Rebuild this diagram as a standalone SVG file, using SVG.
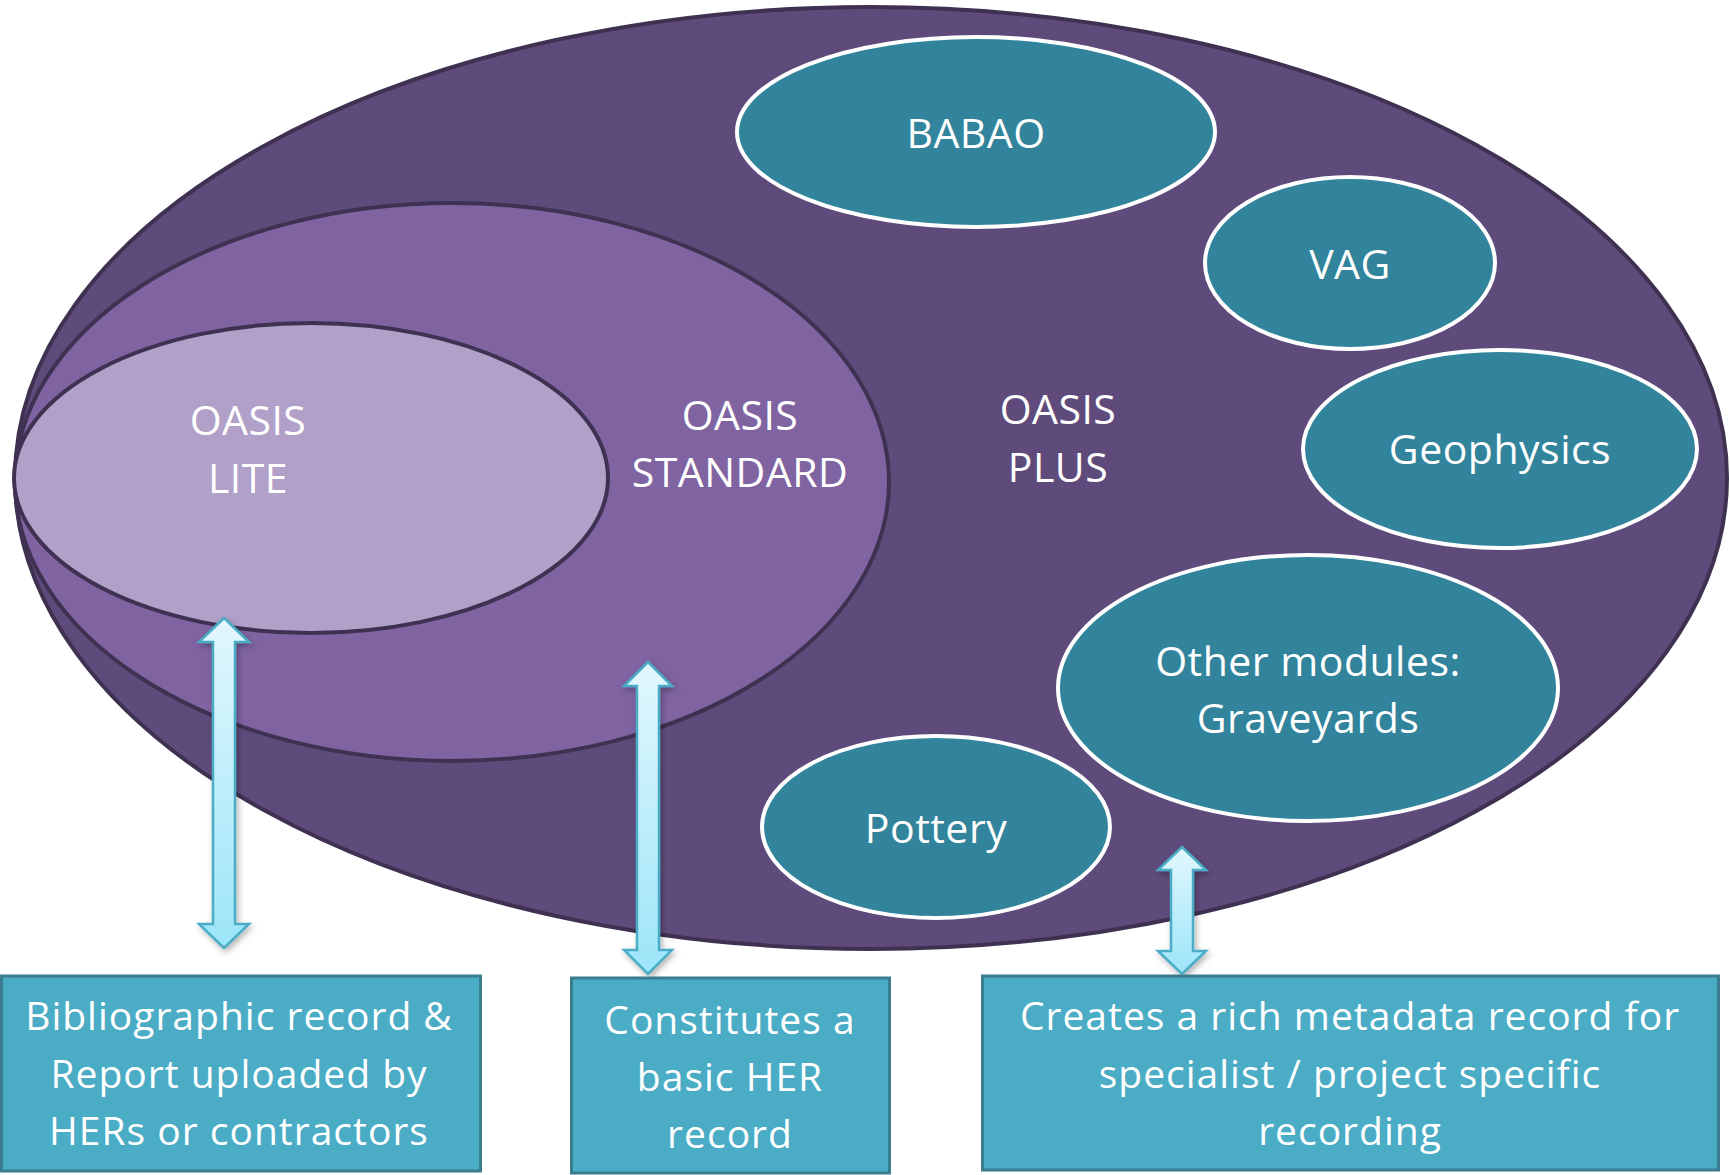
<svg xmlns="http://www.w3.org/2000/svg" width="1730" height="1175" viewBox="0 0 1730 1175">
<defs>
<linearGradient id="ag" x1="0" y1="0" x2="0" y2="1">
<stop offset="0" stop-color="#e2f7fd"/>
<stop offset="1" stop-color="#9ce5f8"/>
</linearGradient>
<filter id="sh" x="-50%" y="-10%" width="200%" height="120%">
<feDropShadow dx="2" dy="3" stdDeviation="3" flood-color="#000" flood-opacity="0.3"/>
</filter>
<style>
.t{font-family:"Open Sans","Liberation Sans",sans-serif;fill:#fff;text-anchor:middle}
.big{font-size:41px;letter-spacing:0.5px}
.box{font-size:39px;letter-spacing:1px}
.purple{stroke:#3f3151;stroke-width:4}
.mod{fill:#31849b;stroke:#fff;stroke-width:4}
.bx{fill:#4bacc6;stroke:#3a7d8f;stroke-width:3}
.arr{fill:url(#ag);stroke:#4bacc6;stroke-width:2.5;filter:url(#sh)}
</style>
</defs>
<rect width="1730" height="1175" fill="#fff"/>
<g id="oasis-plus">
<ellipse cx="871" cy="478" rx="856" ry="471" fill="#5f4b7b" class="purple"/>
<text class="t big" x="1058" y="424">OASIS</text>
<text class="t big" x="1058" y="482">PLUS</text>
</g>
<g id="oasis-standard">
<ellipse cx="452" cy="482" rx="437" ry="279" fill="#8064a2" class="purple"/>
<text class="t big" x="740" y="430">OASIS</text>
<text class="t big" x="740" y="487">STANDARD</text>
</g>
<g id="oasis-lite">
<ellipse cx="311" cy="478" rx="297" ry="155" fill="#b1a0c7" class="purple"/>
<text class="t big" x="248" y="435">OASIS</text>
<text class="t big" x="248" y="493">LITE</text>
</g>
<g id="babao">
<ellipse cx="976" cy="132" rx="239" ry="95" class="mod"/>
<text class="t big" x="976" y="148">BABAO</text>
</g>
<g id="vag">
<ellipse cx="1350" cy="263" rx="145" ry="86" class="mod"/>
<text class="t big" x="1350" y="279">VAG</text>
</g>
<g id="geophysics">
<ellipse cx="1500" cy="449" rx="197" ry="99" class="mod"/>
<text class="t big" x="1500" y="464">Geophysics</text>
</g>
<g id="other-modules">
<ellipse cx="1308" cy="688" rx="250" ry="133" class="mod"/>
<text class="t big" x="1308" y="676">Other modules:</text>
<text class="t big" x="1308" y="733">Graveyards</text>
</g>
<g id="pottery">
<ellipse cx="936" cy="827" rx="174" ry="91" class="mod"/>
<text class="t big" x="936" y="843">Pottery</text>
</g>
<g id="connectors">
<path class="arr" d="M224,618 L249,642 L235,642 L235,924 L249,924 L224,948 L199,924 L213,924 L213,642 L199,642 Z"/>
<path class="arr" d="M648,662 L672,686 L659,686 L659,950 L672,950 L648,974 L624,950 L637,950 L637,686 L624,686 Z"/>
<path class="arr" d="M1182,847 L1206,870 L1193,870 L1193,951 L1206,951 L1182,974 L1158,951 L1171,951 L1171,870 L1158,870 Z"/>
</g>
<g id="box-lite">
<rect class="bx" x="1.5" y="976" width="479" height="195"/>
<text class="t box" x="239" y="1030">Bibliographic record &amp;</text>
<text class="t box" x="239" y="1088">Report uploaded by</text>
<text class="t box" x="239" y="1145">HERs or contractors</text>
</g>
<g id="box-standard">
<rect class="bx" x="571.5" y="978" width="318" height="195"/>
<text class="t box" x="730" y="1034">Constitutes a</text>
<text class="t box" x="730" y="1091">basic HER</text>
<text class="t box" x="730" y="1148">record</text>
</g>
<g id="box-plus">
<rect class="bx" x="982.5" y="976" width="736" height="194"/>
<text class="t box" x="1350" y="1030">Creates a rich metadata record for</text>
<text class="t box" x="1350" y="1088">specialist / project specific</text>
<text class="t box" x="1350" y="1145">recording</text>
</g>
</svg>
